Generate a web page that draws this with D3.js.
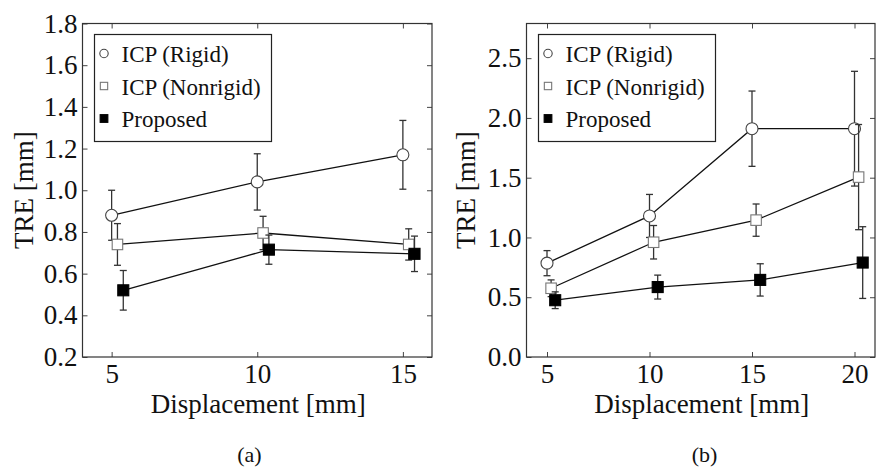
<!DOCTYPE html>
<html>
<head>
<meta charset="utf-8">
<script src="https://cdn.jsdelivr.net/npm/d3@7"></script>
<style>
  body { margin: 0; background: white; }
  text { font-family: "Liberation Serif", "Times New Roman", serif; fill: #111; }
</style>
</head>
<body>
<div id="chart"></div>
<script>
// Data
const seriesNames = ["ICP (Rigid)", "ICP (Nonrigid)", "Proposed"];
const seriesShift = [0, 0.2, 0.4]; // small x dodge between series (mm)

const dispA = [5, 10, 15];
const rigidA = [0.88, 1.04, 1.17];
const rigidErrA = [0.12, 0.135, 0.165];
const nonrigidA = [0.74, 0.795, 0.74];
const nonrigidErrA = [0.10, 0.08, 0.075];
const proposedA = [0.52, 0.715, 0.695];
const proposedErrA = [0.095, 0.07, 0.085];

const dispB = [5, 10, 15, 20];
const rigidB = [0.785, 1.18, 1.91, 1.91];
const rigidErrB = [0.105, 0.18, 0.315, 0.48];
const nonrigidB = [0.575, 0.96, 1.145, 1.505];
const nonrigidErrB = [0.07, 0.14, 0.135, 0.44];
const proposedB = [0.475, 0.585, 0.645, 0.79];
const proposedErrB = [0.07, 0.1, 0.135, 0.3];

const ticksXA = [5, 10, 15];
const ticksYA = [0.2, 0.4, 0.6, 0.8, 1.0, 1.2, 1.4, 1.6, 1.8];
const ticksXB = [5, 10, 15, 20];
const ticksYB = [0.0, 0.5, 1.0, 1.5, 2.0, 2.5];

const width = 876;
const height = 467;
const serif = "\"Liberation Serif\", \"Times New Roman\", serif";

const svg = d3.select("#chart").append("svg")
    .attr("width", width)
    .attr("height", height);

svg.append("rect")
    .attr("width", width)
    .attr("height", height)
    .attr("fill", "white");

// one panel = one axes box
function drawPanel(cfg) {
  const x = d3.scaleLinear().domain(cfg.xDomain).range([cfg.left, cfg.right]);
  const y = d3.scaleLinear().domain(cfg.yDomain).range([cfg.bottom, cfg.top]);
  const g = svg.append("g").attr("font-family", serif);

  // ticks pointing inward on all four sides
  const axes = [
    [d3.axisBottom(x).tickValues(cfg.xTicks).tickFormat(d3.format("d")), `translate(0,${cfg.bottom})`],
    [d3.axisTop(x).tickValues(cfg.xTicks).tickFormat(""), `translate(0,${cfg.top})`],
    [d3.axisLeft(y).tickValues(cfg.yTicks).tickFormat(d3.format(".1f")), `translate(${cfg.left},0)`],
    [d3.axisRight(y).tickValues(cfg.yTicks).tickFormat(""), `translate(${cfg.right},0)`]
  ];
  axes.forEach(([ax, tr], i) => {
    const a = g.append("g")
        .attr("transform", tr)
        .call(ax.tickSizeInner(-5).tickSizeOuter(0).tickPadding(i === 0 ? 7 : 5))
        .attr("font-family", serif);
    a.select(".domain").remove();
    a.selectAll("line").attr("stroke", "#444");
    a.selectAll("text")
        .attr("font-family", serif)
        .attr("font-size", 27)
        .attr("fill", "#111");
  });

  g.append("rect")
      .attr("x", cfg.left)
      .attr("y", cfg.top)
      .attr("width", cfg.right - cfg.left)
      .attr("height", cfg.bottom - cfg.top)
      .attr("fill", "none")
      .attr("stroke", "#333")
      .attr("stroke-width", 1.2);

  // series: line, error bars, markers
  cfg.series.forEach((s, si) => {
    const pts = cfg.disp.map((d, i) => ({
      x: x(d + seriesShift[si]),
      y: y(s.values[i]),
      lo: y(s.values[i] - s.errs[i]),
      hi: y(s.values[i] + s.errs[i])
    }));

    g.append("path")
        .attr("d", d3.line().x(p => p.x).y(p => p.y)(pts))
        .attr("fill", "none")
        .attr("stroke", "#111")
        .attr("stroke-width", 1.3);

    const eb = g.append("g").attr("stroke", "#333").attr("stroke-width", 1.3);
    pts.forEach(p => {
      eb.append("line").attr("x1", p.x).attr("x2", p.x).attr("y1", p.lo).attr("y2", p.hi);
      eb.append("line").attr("x1", p.x - 3.5).attr("x2", p.x + 3.5).attr("y1", p.lo).attr("y2", p.lo);
      eb.append("line").attr("x1", p.x - 3.5).attr("x2", p.x + 3.5).attr("y1", p.hi).attr("y2", p.hi);
    });

    pts.forEach(p => drawMarker(g, si, p.x, p.y, 1));
  });

  // legend
  const lg = g.append("g");
  lg.append("rect")
      .attr("x", cfg.left + 12)
      .attr("y", cfg.top + 11)
      .attr("width", 177)
      .attr("height", 107)
      .attr("fill", "white")
      .attr("stroke", "#222")
      .attr("stroke-width", 1.2);
  seriesNames.forEach((name, i) => {
    const ly = cfg.top + 30 + i * 32.5;
    drawMarker(lg, i, cfg.left + 21.5, ly, 0.7);
    lg.append("text")
        .attr("x", cfg.left + 39)
        .attr("y", ly + 8.5)
        .attr("font-size", 23)
        .text(name);
  });

  // axis titles
  g.append("text")
      .attr("x", (cfg.left + cfg.right) / 2 + 1)
      .attr("y", 413)
      .attr("text-anchor", "middle")
      .attr("font-size", 27)
      .text("Displacement [mm]");
  g.append("text")
      .attr("transform", `translate(${cfg.yLabelX},${(cfg.top + cfg.bottom) / 2}) rotate(-90)`)
      .attr("text-anchor", "middle")
      .attr("font-size", 27)
      .text("TRE [mm]");
  g.append("text")
      .attr("x", cfg.captionX)
      .attr("y", 462)
      .attr("text-anchor", "middle")
      .attr("font-size", 22)
      .text(cfg.caption);
}

function drawMarker(g, si, cx, cy, k) {
  if (si === 0) {
    g.append("circle")
        .attr("cx", cx).attr("cy", cy).attr("r", 6 * k)
        .attr("fill", "white").attr("stroke", "#444").attr("stroke-width", 1.1);
  } else {
    const s = (si === 1 ? 10.5 : 11) * k;
    g.append("rect")
        .attr("x", cx - s / 2).attr("y", cy - s / 2)
        .attr("width", s).attr("height", s)
        .attr("fill", si === 1 ? "white" : "black")
        .attr("stroke", si === 1 ? "#777" : "black")
        .attr("stroke-width", 1.1);
  }
}

drawPanel({
  left: 82.5, right: 432, top: 23.5, bottom: 357,
  xDomain: [4, 16], yDomain: [0.2, 1.8],
  xTicks: ticksXA, yTicks: ticksYA,
  disp: dispA,
  series: [
    { values: rigidA, errs: rigidErrA },
    { values: nonrigidA, errs: nonrigidErrA },
    { values: proposedA, errs: proposedErrA }
  ],
  yLabelX: 33, captionX: 249.5, caption: "(a)"
});

drawPanel({
  left: 526.5, right: 875, top: 23.5, bottom: 357,
  xDomain: [4, 21], yDomain: [0, 2.79],
  xTicks: ticksXB, yTicks: ticksYB,
  disp: dispB,
  series: [
    { values: rigidB, errs: rigidErrB },
    { values: nonrigidB, errs: nonrigidErrB },
    { values: proposedB, errs: proposedErrB }
  ],
  yLabelX: 475, captionX: 704.5, caption: "(b)"
});
</script>
</body>
</html>
